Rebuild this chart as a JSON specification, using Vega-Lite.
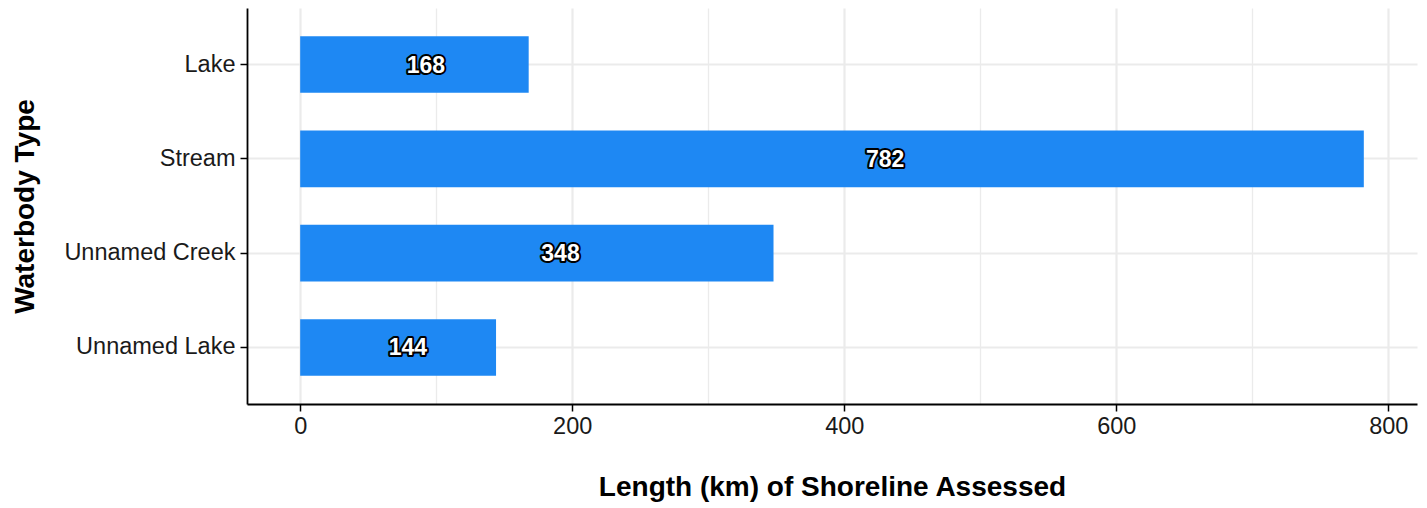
{
  "$schema": "https://vega.github.io/schema/vega-lite/v6.json",
  "width": 1170,
  "height": 396,
  "autosize": {"type": "none"},
  "padding": {"left": 247, "top": 8, "right": 10, "bottom": 104},
  "background": "white",
  "config": {
    "view": {"stroke": null},
    "font": "Liberation Sans"
  },
  "data": {
    "values": [
      {"type": "Lake", "km": 168},
      {"type": "Stream", "km": 782},
      {"type": "Unnamed Creek", "km": 348},
      {"type": "Unnamed Lake", "km": 144}
    ]
  },
  "encoding": {
    "y": {
      "field": "type",
      "type": "nominal",
      "sort": ["Lake", "Stream", "Unnamed Creek", "Unnamed Lake"],
      "scale": {"paddingInner": 0.4, "paddingOuter": 0.3},
      "axis": {
        "title": "Waterbody Type",
        "titleFont": "Liberation Sans",
        "titleFontSize": 28,
        "titleFontWeight": "bold",
        "titleColor": "black",
        "titleAngle": -90,
        "titleX": -222,
        "titleY": 198,
        "titleAlign": "center",
        "titleBaseline": "middle",
        "labelFontSize": 23.5,
        "labelColor": "#1a1a1a",
        "labelPadding": 5,
        "tickSize": 7,
        "tickColor": "black",
        "tickWidth": 1.5,
        "domainColor": "black",
        "domainWidth": 1.8,
        "grid": true,
        "gridColor": "#EBEBEB",
        "gridWidth": 2,
        "bandPosition": 0.5
      }
    }
  },
  "resolve": {"scale": {"x": "independent"}},
  "layer": [
    {
      "mark": {"type": "bar", "color": "#1E88F3"},
      "encoding": {
        "x": {
          "field": "km",
          "type": "quantitative",
          "scale": {"domain": [-39.1, 821.1], "nice": false, "zero": false},
          "axis": {
            "title": "Length (km) of Shoreline Assessed",
            "titleFontSize": 28,
            "titleFontWeight": "bold",
            "titleColor": "black",
            "titleY": 91,
            "titleBaseline": "alphabetic",
            "values": [0, 100, 200, 300, 400, 500, 600, 700, 800],
            "labelExpr": "datum.value % 200 === 0 ? datum.label : ''",
            "labelFontSize": 23.5,
            "labelColor": "#1a1a1a",
            "labelPadding": 3,
            "tickSize": 7,
            "tickColor": "black",
            "tickWidth": 1.5,
            "tickOpacity": {"condition": {"test": "datum.value % 200 === 0", "value": 1}, "value": 0},
            "domainColor": "black",
            "domainWidth": 1.8,
            "grid": true,
            "gridColor": "#EBEBEB",
            "gridWidth": {"condition": {"test": "datum.value % 200 === 0", "value": 2.2}, "value": 1.3}
          }
        }
      }
    },
    {
      "mark": {"type": "text", "fontSize": 23, "fontWeight": "bold", "color": "white", "stroke": "black", "strokeWidth": 4, "strokeJoin": "round", "baseline": "middle", "align": "center", "dy": 1},
      "encoding": {
        "x": {"field": "km", "type": "quantitative", "scale": {"domain": [-71.09, 1492.9], "nice": false, "zero": false}, "axis": null},
        "text": {"field": "km", "type": "quantitative"}
      }
    },
    {
      "mark": {"type": "text", "fontSize": 23, "fontWeight": "bold", "color": "white", "baseline": "middle", "align": "center", "dy": 1},
      "encoding": {
        "x": {"field": "km", "type": "quantitative", "scale": {"domain": [-71.09, 1492.9], "nice": false, "zero": false}, "axis": null},
        "text": {"field": "km", "type": "quantitative"}
      }
    }
  ]
}
